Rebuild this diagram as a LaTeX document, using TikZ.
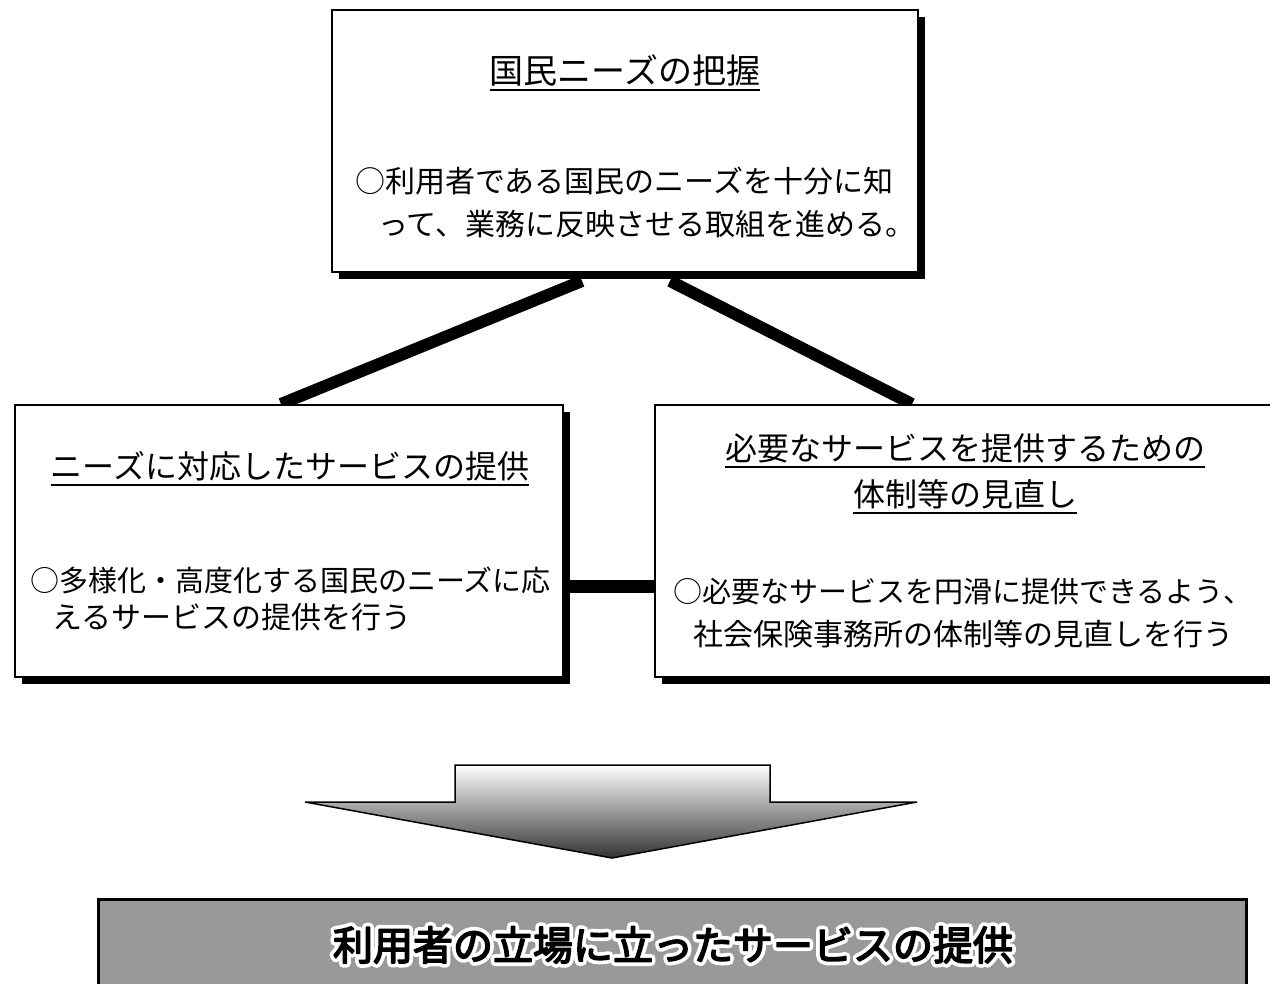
\documentclass[tikz,border=0pt]{standalone}
\usepackage{fontspec}
\setmainfont{Noto Sans CJK JP}
\newfontfamily\heavyjp{Noto Sans CJK JP}[FakeBold=4]
\usetikzlibrary{shadows,backgrounds,calc}
\begin{document}
\begin{tikzpicture}[x=1pt,y=-1pt,
  box/.style={draw=black, line width=2pt, fill=white, inner sep=0pt,
    drop shadow={shadow xshift=7pt, shadow yshift=-7pt, fill=black, opacity=1}},
  ttl/.style={inner sep=0pt, font=\fontsize{32}{38}\selectfont},
  txt/.style={inner sep=0pt, anchor=west},
  uline/.style={line width=1.6pt},
  conn/.style={line width=12pt},
  hconn/.style={line width=13pt}]
\path[use as bounding box] (0,0) rectangle (1270,984);
\clip (0,0) rectangle (1270,984);

% boxes
\node[box, minimum width=586pt, minimum height=262pt] (top) at (625,141) {};
\node[box, minimum width=548pt, minimum height=272pt] (left) at (289,541) {};
\node[box, minimum width=620pt, minimum height=272pt] (right) at (965,541) {};

% connectors behind boxes
\begin{scope}[on background layer]
\fill[white] (0,0) rectangle (1270,984);
\draw[conn] ($(top.south)+(-43,8)$) -- ($(left.north)+(-8,0)$);
\draw[conn] ($(top.south)+(45,8)$) -- ($(right.north)+(-53,0)$);
\draw[hconn] ($(left.east)+(0,45)$) -- ($(right.west)+(0,45)$);
\end{scope}

% top box texts
\node[ttl, font=\fontsize{34}{40}\selectfont] (t1) at (625,70) {国民ニーズの把握};
\draw[uline] ([yshift=-4pt]t1.south west) -- ([yshift=-4pt]t1.south east);
\node[txt, font=\fontsize{30}{36}\selectfont] (b1) at (355,181) {○利用者である国民のニーズを十分に知};
\node[txt, font=\fontsize{30}{36}\selectfont] (b2) at (378,224) {って、業務に反映させる取組を進める。};

% left box texts
\node[ttl] (t2) at (290,466) {ニーズに対応したサービスの提供};
\draw[uline] ([yshift=-4pt]t2.south west) -- ([yshift=-4pt]t2.south east);
\node[txt, font=\fontsize{29}{35}\selectfont] (b3) at (30,580) {○多様化・高度化する国民のニーズに応};
\node[txt, font=\fontsize{30}{36}\selectfont] (b4) at (52,617) {えるサービスの提供を行う};

% right box texts
\node[ttl] (t3) at (965,448) {必要なサービスを提供するための};
\draw[uline] ([yshift=-4pt]t3.south west) -- ([yshift=-4pt]t3.south east);
\node[ttl] (t4) at (965,494) {体制等の見直し};
\draw[uline] ([yshift=-4pt]t4.south west) -- ([yshift=-4pt]t4.south east);
\node[txt, font=\fontsize{29}{35}\selectfont] (b5) at (673,592) {○必要なサービスを円滑に提供できるよう、};
\node[txt, font=\fontsize{30}{36}\selectfont] (b6) at (693,634) {社会保険事務所の体制等の見直しを行う};

% big arrow
\shade[top color=white, middle color=black!45, bottom color=black!80, draw=black, line width=1.5pt]
  (455,765) -- (770,765) -- (770,802) -- (917,802) -- (612,858) -- (305,802) -- (455,802) -- cycle;

% bottom result box
\node[draw=black, fill=black!40, line width=2.5pt, minimum width=1148pt, minimum height=110pt,
  anchor=north west, inner sep=0pt] (bot) at (97,898) {};
\node[inner sep=0pt, font=\fontsize{40}{46}\selectfont] (bt) at (673,945)
  {\rlap{\special{pdf:literal direct 1 Tr 9 w 1 1 1 RG 1 j}利用者の立場に立ったサービスの提供\special{pdf:literal direct 0 Tr 0 0 0 RG 1 w}}{\heavyjp 利用者の立場に立ったサービスの提供}};
\end{tikzpicture}
\end{document}
